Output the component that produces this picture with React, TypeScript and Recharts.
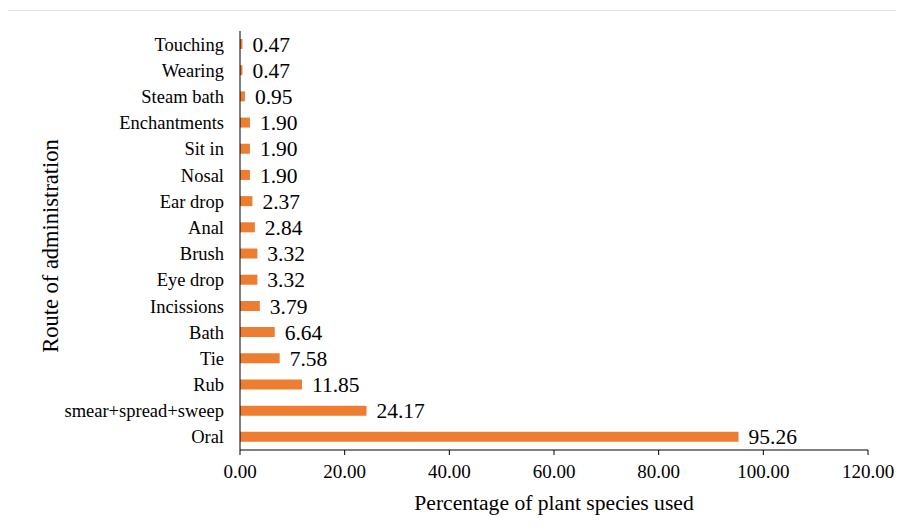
import React from "react";
import { BarChart, Bar, XAxis, YAxis, LabelList, Label } from "recharts";

const categories = [
  "Touching",
  "Wearing",
  "Steam bath",
  "Enchantments",
  "Sit in",
  "Nosal",
  "Ear drop",
  "Anal",
  "Brush",
  "Eye drop",
  "Incissions",
  "Bath",
  "Tie",
  "Rub",
  "smear+spread+sweep",
  "Oral",
];
const percentages = [0.47, 0.47, 0.95, 1.9, 1.9, 1.9, 2.37, 2.84, 3.32, 3.32, 3.79, 6.64, 7.58, 11.85, 24.17, 95.26];
const xTicks = [0, 20, 40, 60, 80, 100, 120];

const data = categories.map((c, i) => ({ route: c, value: percentages[i] }));

const FONT = "Liberation Serif";

export default function App() {
  return (
    <div style={{ position: "relative", width: 904, height: 530, margin: -8, overflow: "hidden", background: "#fff", fontFamily: FONT }}>
      <style>{`.recharts-wrapper text, .recharts-wrapper svg { font-family: "Liberation Serif", serif; }`}</style>
      <div
        style={{
          position: "absolute",
          left: 7,
          top: 10,
          width: 920,
          height: 540,
          border: "1px solid #e3e3e3",
          boxSizing: "border-box",
        }}
      />
      <div style={{ position: "absolute", left: 0, top: 0 }}>
        <BarChart
          width={904}
          height={530}
          data={data}
          layout="vertical"
          margin={{ top: 31, right: 36, bottom: 50, left: 40 }}
          barSize={10}
        >
          <XAxis
            type="number"
            domain={[0, 120]}
            ticks={xTicks}
            tickFormatter={(v: number) => v.toFixed(2)}
            stroke="#000"
            tickSize={5}
            tickMargin={10}
            tick={{ fill: "#000", fontSize: 19, fontFamily: FONT }}
            height={30}
            interval={0}
          >
            <Label
              content={(props: any) => {
                const vb = props.viewBox || {};
                return (
                  <text
                    x={vb.x + vb.width / 2}
                    y={vb.y + 60}
                    textAnchor="middle"
                    fontSize={21.6}
                    fontFamily={FONT}
                    fill="#000"
                  >
                    Percentage of plant species used
                  </text>
                );
              }}
            />
          </XAxis>
          <YAxis
            type="category"
            dataKey="route"
            width={200}
            stroke="#000"
            tickLine={false}
            tickSize={6}
            tickMargin={10}
            interval={0}
            tick={{ fill: "#000", fontSize: 18.5, fontFamily: FONT }}
          >
            <Label
              content={(props: any) => {
                const vb = props.viewBox || {};
                const cx = vb.x + 18;
                const cy = vb.y + vb.height / 2 + 5.5;
                return (
                  <text
                    x={cx}
                    y={cy}
                    transform={`rotate(-90, ${cx}, ${cy})`}
                    textAnchor="middle"
                    fontSize={22.5}
                    fontFamily={FONT}
                    fill="#000"
                  >
                    Route of administration
                  </text>
                );
              }}
            />
          </YAxis>
          <Bar dataKey="value" fill="#ED7D31" isAnimationActive={false}>
            <LabelList
              dataKey="value"
              position="right"
              offset={10}
              formatter={(v: any) => Number(v).toFixed(2)}
              style={{ fill: "#000", fontSize: 21.5, fontFamily: FONT }}
            />
          </Bar>
        </BarChart>
      </div>
    </div>
  );
}
